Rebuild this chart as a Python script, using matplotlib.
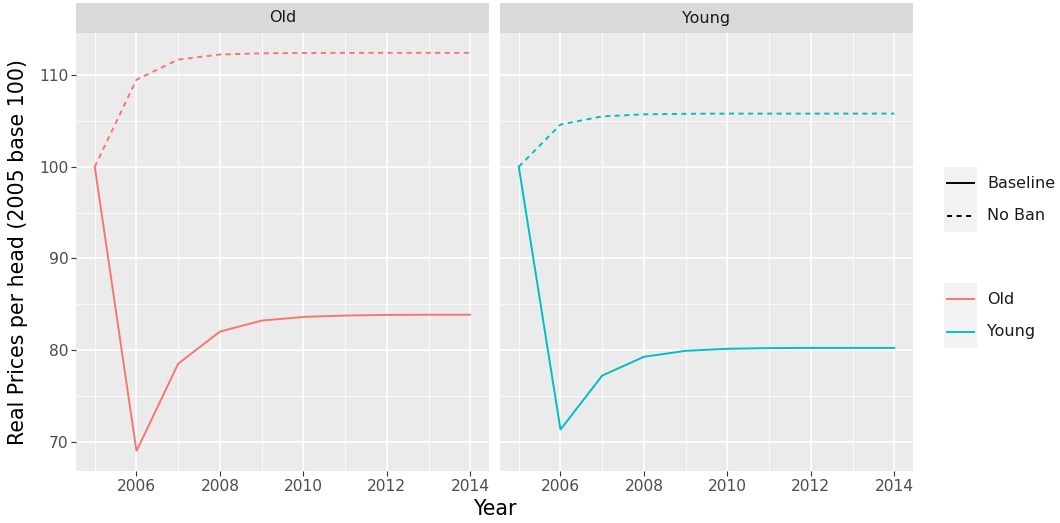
import numpy as np
import matplotlib.pyplot as plt
from matplotlib.patches import Rectangle
from matplotlib.lines import Line2D

# --- data ---
years = [2005, 2006, 2007, 2008, 2009, 2010, 2011, 2012, 2013, 2014]

old_baseline = [100.0, 68.95, 78.5, 82.0, 83.2, 83.6, 83.75, 83.82, 83.84, 83.84]
old_noban = [100.0, 109.5, 111.7, 112.25, 112.38, 112.42, 112.43, 112.43, 112.43, 112.43]

young_baseline = [100.0, 71.3, 77.2, 79.25, 79.9, 80.12, 80.2, 80.22, 80.22, 80.22]
young_noban = [100.0, 104.6, 105.5, 105.72, 105.78, 105.8, 105.8, 105.8, 105.8, 105.8]

panels = ['Old', 'Young']
colors = {'Old': '#F8766D', 'Young': '#00BFC4'}
series = {'Old': (old_baseline, old_noban), 'Young': (young_baseline, young_noban)}

x_ticks = [2006, 2008, 2010, 2012, 2014]
y_ticks = [70, 80, 90, 100, 110]

# --- figure setup (pixel layout) ---
W, H = 1060, 523
fig = plt.figure(figsize=(W / 100, H / 100), dpi=100)
plt.rcParams['font.family'] = 'DejaVu Sans'


def px_axes(x0, y0, x1, y1):
    return fig.add_axes([x0 / W, 1 - y1 / H, (x1 - x0) / W, (y1 - y0) / H])


DASH = (2.6, 2.3)
panel_x = [(76, 489), (500, 913)]
PANEL_TOP, PANEL_BOT = 33, 471

for i, name in enumerate(panels):
    x0, x1 = panel_x[i]
    ax = px_axes(x0, PANEL_TOP, x1, PANEL_BOT)
    ax.set_facecolor('#EBEBEB')
    base, noban = series[name]
    ax.plot(years, base, color=colors[name], lw=1.4, solid_joinstyle='miter')
    ax.plot(years, noban, color=colors[name], lw=1.4, linestyle=(0, DASH))

    ax.set_xlim(2004.55, 2014.45)
    ax.set_ylim(66.78, 114.6)
    ax.set_xticks(x_ticks)
    ax.set_xticks([2005, 2007, 2009, 2011, 2013], minor=True)
    ax.set_yticks(y_ticks)
    ax.set_yticks([75, 85, 95, 105], minor=True)
    ax.grid(which='major', color='white', lw=1.2)
    ax.grid(which='minor', color='white', lw=0.6)
    ax.set_axisbelow(True)
    for s in ax.spines.values():
        s.set_visible(False)
    ax.tick_params(which='minor', length=0)
    ax.tick_params(which='major', length=3.5, width=0.8, color='#333333',
                   labelsize=11.2, labelcolor='#4D4D4D', pad=2)
    if i > 0:
        ax.tick_params(axis='y', left=False, labelleft=False)

    # facet strip
    sax = px_axes(x0, 3, x1, PANEL_TOP)
    sax.set_facecolor('#D9D9D9')
    sax.set_xticks([])
    sax.set_yticks([])
    for s in sax.spines.values():
        s.set_visible(False)
    sax.text(0.5, 0.5, name, ha='center', va='center', fontsize=11.5, color='#1A1A1A',
             transform=sax.transAxes)

fig.text(494.5 / W, 1 - 509 / H, 'Year', ha='center', va='center', fontsize=14.8)
fig.text(18 / W, 1 - 252 / H, 'Real Prices per head (2005 base 100)', ha='center',
         va='center', rotation=90, fontsize=14.8)

# --- legends ---
lax = px_axes(930, 0, W, H)
lax.set_xlim(930, W)
lax.set_ylim(H, 0)
lax.axis('off')


def legend_block(top, entries):
    for k, (label, color, ls) in enumerate(entries):
        y0 = top + k * 32.5
        lax.add_patch(Rectangle((944, y0), 33, 32.5, facecolor='#F2F2F2', edgecolor='none'))
        lax.add_line(Line2D([947, 974], [y0 + 16.25, y0 + 16.25], color=color, lw=1.4,
                            linestyle=ls))
        lax.text(987, y0 + 16.25, label, ha='left', va='center', fontsize=11.5,
                 color='#1A1A1A')


legend_block(167, [('Baseline', 'black', '-'), ('No Ban', 'black', (0, DASH))])
legend_block(283, [('Old', colors['Old'], '-'), ('Young', colors['Young'], '-')])

fig.savefig('out.png', dpi=100)
